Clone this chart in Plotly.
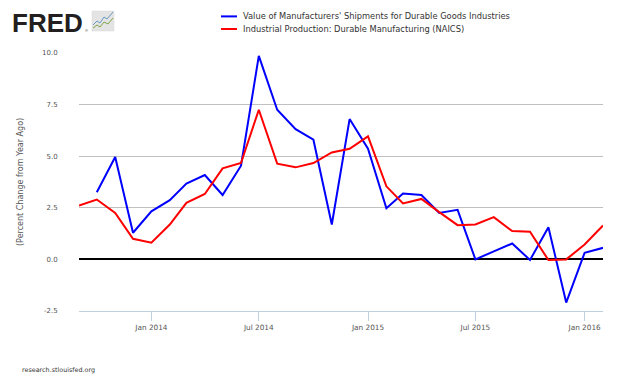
import plotly.graph_objects as go

months = ["2013-09-01","2013-10-01","2013-11-01","2013-12-01","2014-01-01","2014-02-01","2014-03-01",
          "2014-04-01","2014-05-01","2014-06-01","2014-07-01","2014-08-01","2014-09-01","2014-10-01",
          "2014-11-01","2014-12-01","2015-01-01","2015-02-01","2015-03-01","2015-04-01","2015-05-01",
          "2015-06-01","2015-07-01","2015-08-01","2015-09-01","2015-10-01","2015-11-01","2015-12-01",
          "2016-01-01","2016-02-01"]

shipments = [None, 3.25, 4.96, 1.29, 2.33, 2.87, 3.67, 4.09, 3.12, 4.54, 9.86, 7.25, 6.31, 5.80,
             1.69, 6.80, 5.36, 2.48, 3.19, 3.12, 2.25, 2.40, 0.00, 0.39, 0.77, -0.03, 1.56, -2.09,
             0.32, 0.56]

production = [2.61, 2.90, 2.25, 1.00, 0.81, 1.69, 2.74, 3.17, 4.41, 4.67, 7.25, 4.64, 4.46, 4.67,
              5.18, 5.36, 5.96, 3.54, 2.71, 2.93, 2.29, 1.66, 1.69, 2.05, 1.37, 1.34, -0.03, 0.00,
              0.72, 1.64]

series_names = ["Value of Manufacturers' Shipments for Durable Goods Industries",
                "Industrial Production: Durable Manufacturing (NAICS)"]
series_colors = ["#0000FF", "#FF0000"]

x_tick_vals = ["2014-01-01", "2014-07-01", "2015-01-01", "2015-07-01", "2016-01-01"]
x_tick_text = ["Jan 2014", "Jul 2014", "Jan 2015", "Jul 2015", "Jan 2016"]
y_tick_vals = [-2.5, 0.0, 2.5, 5.0, 7.5, 10.0]
y_tick_text = ["-2.5", "0.0", "2.5", "5.0", "7.5", "10.0"]

W, H = 630, 378
OFF = 8  # page body margin offset
L, R, T, B = 79, 603, 53, 311  # plot area in window pixels

def px(x):
    return (x - L) / (R - L)

def py(y):
    return (B - y) / (B - T)

FONT = "DejaVu Sans"

fig = go.Figure()
for vals, name, col in zip([shipments, production], series_names, series_colors):
    fig.add_trace(go.Scatter(x=months, y=vals, mode="lines", name=name,
                             line=dict(color=col, width=2), connectgaps=False,
                             showlegend=False))

fig.update_layout(
    width=W, height=H,
    margin=dict(l=L - OFF, r=W - (R - OFF), t=T - OFF, b=H - (B - OFF), pad=0, autoexpand=False),
    paper_bgcolor="white", plot_bgcolor="white",
    font=dict(family=FONT, size=8, color="#606060"),
    xaxis=dict(
        type="date", range=["2013-09-01", "2016-02-01"], automargin=False,
        tickvals=x_tick_vals, ticktext=x_tick_text,
        showgrid=False, zeroline=False,
        showline=True, linecolor="#C0D0E0", linewidth=1,
        ticks="outside", ticklen=9, tickcolor="#C0D0E0", tickwidth=1,
        tickfont=dict(family=FONT, size=7.3, color="#555555"),
    ),
    yaxis=dict(
        range=[-2.5, 10.0], tickvals=y_tick_vals, ticktext=y_tick_text, automargin=False,
        showgrid=True, gridcolor="#C0C0C0", gridwidth=1,
        zeroline=True, zerolinecolor="#000000", zerolinewidth=2,
        showline=False,
        ticks="outside", ticklen=19, tickcolor="rgba(0,0,0,0)",
        tickfont=dict(family=FONT, size=7, color="#555555"),
    ),
)

annotations = []
shapes = []

# Y axis title
annotations.append(dict(text="(Percent Change from Year Ago)", xref="paper", yref="paper",
                        x=px(20), y=py(182), textangle=-90, showarrow=False,
                        xanchor="center", yanchor="middle",
                        font=dict(family=FONT, size=8, color="#555555")))

# Custom legend
for i, (name, col) in enumerate(zip(series_names, series_colors)):
    yy = 16.4 + i * 12.6
    shapes.append(dict(type="line", xref="paper", yref="paper",
                       x0=px(221), x1=px(237), y0=py(yy), y1=py(yy),
                       line=dict(color=col, width=2)))
    annotations.append(dict(text=name, xref="paper", yref="paper", x=px(241), y=py(yy),
                            xanchor="left", yanchor="middle", showarrow=False,
                            font=dict(family=FONT, size=8.3, color="#333333")))

# FRED logo
annotations.append(dict(text="<b>FRED</b>", xref="paper", yref="paper", x=px(47), y=py(23),
                        xanchor="center", yanchor="middle", showarrow=False, borderpad=0,
                        font=dict(family="Liberation Sans", size=26, color="#231F20")))
annotations.append(dict(text="®", xref="paper", yref="paper", x=px(86), y=py(30),
                        xanchor="center", yanchor="middle", showarrow=False, borderpad=0,
                        font=dict(family="Liberation Sans", size=4, color="#231F20")))
shapes.append(dict(type="rect", xref="paper", yref="paper", x0=px(92), x1=px(114),
                   y0=py(31), y1=py(11), fillcolor="#E4E4E4", line=dict(color="#D8D8D8", width=0.5)))
blue_icon = [(93, 25), (97, 21), (100, 23), (104, 17), (107, 19), (113, 12)]
green_icon = [(93, 28), (97, 25), (100, 27), (104, 22), (108, 24), (113, 18)]
for pts, col in [(blue_icon, "#6A9BC3"), (green_icon, "#7FA64A")]:
    path = "M " + " L ".join(f"{px(a)},{py(b)}" for a, b in pts)
    shapes.append(dict(type="path", xref="paper", yref="paper", path=path,
                       line=dict(color=col, width=1)))

# Footer
annotations.append(dict(text="research.stlouisfed.org", xref="paper", yref="paper",
                        x=px(20), y=py(370), xanchor="left", yanchor="middle", showarrow=False,
                        font=dict(family=FONT, size=6.4, color="#333333")))

fig.update_layout(annotations=annotations, shapes=shapes)
fig.write_html("out.html")
